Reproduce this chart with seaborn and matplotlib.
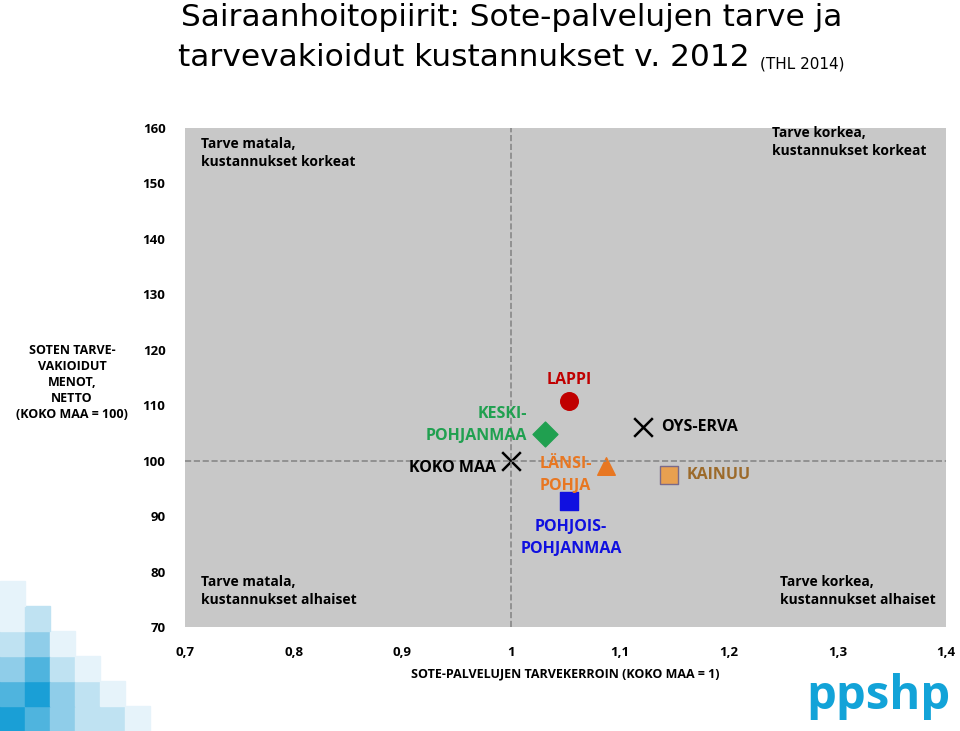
import matplotlib
matplotlib.use("Agg")
import matplotlib.pyplot as plt
import seaborn as sns
import pandas as pd
from matplotlib.patches import Rectangle

names = ["LAPPI", "KESKI-\nPOHJANMAA", "KOKO MAA", "LÄNSI-\nPOHJA", "POHJOIS-\nPOHJANMAA", "OYS-ERVA", "KAINUU"]
need = [1.053, 1.031, 1.000, 1.087, 1.053, 1.121, 1.145]
cost = [110.7, 104.8, 100.0, 99.0, 92.7, 106.0, 97.5]
markers = ["o", "D", "x", "^", "s", "x", "s"]
colors = ["#c00000", "#20a050", "#000000", "#e87722", "#1010e0", "#000000", "#e8a050"]
label_colors = ["#c00000", "#20a050", "#000000", "#e87722", "#1010e0", "#000000", "#9c6a2a"]
xticks = [0.7, 0.8, 0.9, 1.0, 1.1, 1.2, 1.3, 1.4]
xticklabels = ["0,7", "0,8", "0,9", "1", "1,1", "1,2", "1,3", "1,4"]
yticks = [70, 80, 90, 100, 110, 120, 130, 140, 150, 160]

df = pd.DataFrame({"name": names, "need": need, "cost": cost})
plt.rcParams["font.family"] = "Open Sans"
fig = plt.figure(figsize=(9.6, 7.31), dpi=100)
ax = fig.add_axes([185/960, 1-627/731, (946-185)/960, (627-128)/731])
ax.set_facecolor("#c8c8c8")
ax.axvline(1.0, color="#888888", ls="--", lw=1.2)
ax.axhline(100, color="#888888", ls="--", lw=1.2)
for i, r in df.iterrows():
    kw = dict(s=160 if markers[i] != "x" else 180)
    if markers[i] == "x":
        sns.scatterplot(x=[r.need], y=[r.cost], marker="x", color="black", linewidth=1.8, ax=ax, **kw)
    elif i == 6:
        sns.scatterplot(x=[r.need], y=[r.cost], marker="s", color=colors[i], edgecolor="#7a6a8a", linewidth=1, ax=ax, **kw)
    else:
        sns.scatterplot(x=[r.need], y=[r.cost], marker=markers[i], color=colors[i], edgecolor=colors[i], ax=ax, **kw)

lab = [(1.053, 114.5, "center", "LAPPI"), (1.015, 106.5, "right", "KESKI-\nPOHJANMAA"),
       (0.986, 98.7, "right", "KOKO MAA"), (1.026, 97.5, "left", "LÄNSI-\nPOHJA"),
       (1.055, 86.0, "center", "POHJOIS-\nPOHJANMAA"), (1.138, 106.0, "left", "OYS-ERVA"),
       (1.161, 97.5, "left", "KAINUU")]
for (x, y, ha, t), c in zip(lab, label_colors):
    ax.text(x, y, t, ha=ha, va="center", color=c, fontsize=11.5, fontweight="bold", linespacing=1.5)

for x, y, ha, t in [(0.715, 155.5, "left", "Tarve matala,\nkustannukset korkeat"),
                    (1.24, 157.5, "left", "Tarve korkea,\nkustannukset korkeat"),
                    (0.715, 76.5, "left", "Tarve matala,\nkustannukset alhaiset"),
                    (1.247, 76.5, "left", "Tarve korkea,\nkustannukset alhaiset")]:
    ax.text(x, y, t, ha=ha, va="center", fontsize=10, fontweight="bold", linespacing=1.4)

ax.set_xlim(0.7, 1.4)
ax.set_ylim(70, 160)
ax.set_xticks(xticks)
ax.set_xticklabels(xticklabels, fontsize=9.5, fontweight="bold")
ax.set_yticks(yticks)
ax.set_yticklabels([str(v) for v in yticks], fontsize=9.5, fontweight="bold")
ax.tick_params(length=0, pad=14)
for s in ax.spines.values():
    s.set_visible(False)
ax.set_xlabel("SOTE-PALVELUJEN TARVEKERROIN (KOKO MAA = 1)", fontsize=9, fontweight="bold", labelpad=6)
fig.text(72/960, 1-383/731, "SOTEN TARVE-\nVAKIOIDUT\nMENOT,\nNETTO\n(KOKO MAA = 100)",
         ha="center", va="center", fontsize=9, fontweight="bold", linespacing=1.3)

tf = "DejaVu Sans"
fig.text(512/960, 1-18/731, "Sairaanhoitopiirit: Sote-palvelujen tarve ja", ha="center", va="center",
         fontsize=22.5, family=tf)
fig.text(178/960, 1-58/731, "tarvevakioidut kustannukset v. 2012", ha="left", va="center",
         fontsize=22.5, family=tf)
fig.text(760/960, 1-64/731, "(THL 2014)", ha="left", va="center", fontsize=11, family=tf)

# decorative mosaic bottom-left
blues = ["#e6f3fa", "#bfe2f2", "#8fcde9", "#4fb4de", "#1a9fd6"]
cells = [(0,0,4),(1,0,3),(2,0,2),(3,0,1),(4,0,1),(5,0,0),(0,1,3),(1,1,4),(2,1,2),(3,1,1),(4,1,0),
         (0,2,2),(1,2,3),(2,2,1),(3,2,0),(0,3,1),(1,3,2),(2,3,0),(0,4,0),(1,4,1),(0,5,0)]
w = 25
for cx, cy, ci in cells:
    fig.patches.append(Rectangle((cx*w/960, cy*w/731), w/960, w/731, transform=fig.transFigure,
                                 color=blues[ci], zorder=0))
fig.text(878/960, 1-697/731, "ppshp", ha="center", va="center", fontsize=34, fontweight="bold",
         color="#12a3d8")
fig.savefig("out.png", dpi=100)
